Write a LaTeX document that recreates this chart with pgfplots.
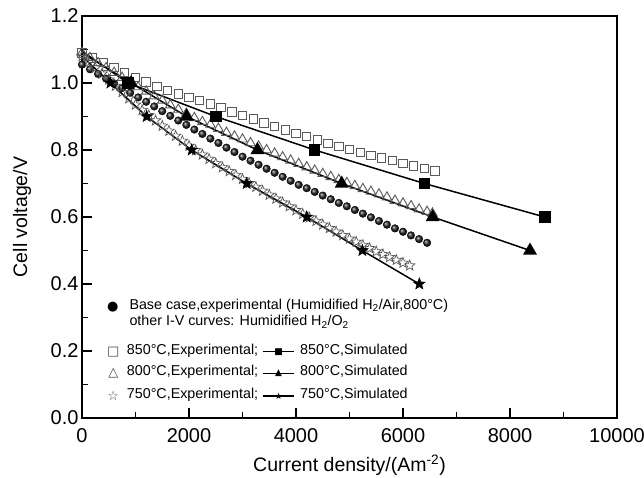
\documentclass[border=0pt]{standalone}
\usepackage{pgfplots}
\pgfplotsset{compat=1.18}
\usepackage{fontspec}
\setmainfont{Liberation Sans}
\newfontfamily\sym{DejaVu Sans}
\pgfdeclareplotmark{ostar}{%
  \pgfpathmoveto{\pgfpointpolar{90}{\pgfplotmarksize}}%
  \pgfpathlineto{\pgfpointpolar{126}{0.42\pgfplotmarksize}}%
  \pgfpathlineto{\pgfpointpolar{162}{\pgfplotmarksize}}%
  \pgfpathlineto{\pgfpointpolar{198}{0.42\pgfplotmarksize}}%
  \pgfpathlineto{\pgfpointpolar{234}{\pgfplotmarksize}}%
  \pgfpathlineto{\pgfpointpolar{270}{0.42\pgfplotmarksize}}%
  \pgfpathlineto{\pgfpointpolar{306}{\pgfplotmarksize}}%
  \pgfpathlineto{\pgfpointpolar{342}{0.42\pgfplotmarksize}}%
  \pgfpathlineto{\pgfpointpolar{18}{\pgfplotmarksize}}%
  \pgfpathlineto{\pgfpointpolar{54}{0.42\pgfplotmarksize}}%
  \pgfpathclose
  \pgfusepathqstroke
}
\pgfdeclareplotmark{fstar}{%
  \pgfpathmoveto{\pgfpointpolar{90}{\pgfplotmarksize}}%
  \pgfpathlineto{\pgfpointpolar{126}{0.42\pgfplotmarksize}}%
  \pgfpathlineto{\pgfpointpolar{162}{\pgfplotmarksize}}%
  \pgfpathlineto{\pgfpointpolar{198}{0.42\pgfplotmarksize}}%
  \pgfpathlineto{\pgfpointpolar{234}{\pgfplotmarksize}}%
  \pgfpathlineto{\pgfpointpolar{270}{0.42\pgfplotmarksize}}%
  \pgfpathlineto{\pgfpointpolar{306}{\pgfplotmarksize}}%
  \pgfpathlineto{\pgfpointpolar{342}{0.42\pgfplotmarksize}}%
  \pgfpathlineto{\pgfpointpolar{18}{\pgfplotmarksize}}%
  \pgfpathlineto{\pgfpointpolar{54}{0.42\pgfplotmarksize}}%
  \pgfpathclose
  \pgfusepathqfillstroke
}
\colorlet{expgray}{black!65}
\begin{document}
\begin{tikzpicture}
\begin{axis}[
  scale only axis, width=535pt, height=402pt,
  xmin=0, xmax=10000, ymin=0, ymax=1.2,
  axis line style={line width=1.4pt},
  tick style={line width=1.2pt, black},
  tick align=inside, tick pos=left,
  xtick={0,2000,4000,6000,8000,10000},
  ytick={0,0.2,0.4,0.6,0.8,1.0,1.2},
  minor x tick num=1, minor y tick num=1,
  major tick length=10pt, minor tick length=6.5pt,
  scaled x ticks=false,
  /pgf/number format/assume math mode=true,
  xticklabel style={/pgf/number format/1000 sep={}, yshift=-7pt},
  yticklabel style={/pgf/number format/fixed, /pgf/number format/fixed zerofill, /pgf/number format/precision=1},
  ticklabel style={font=\fontsize{20}{22}\selectfont},
  label style={font=\fontsize{19.5}{21}\selectfont},
  xlabel={Current density/(Am\textsuperscript{-2})},
  ylabel={Cell voltage/V},
  xlabel style={at={(axis description cs:0.5,-0.117)}, anchor=center},
  ylabel style={at={(axis description cs:-0.112,0.5)}, anchor=center},
]
% 850 C experimental
\addplot[only marks, mark=square, mark size=4.2pt, mark options={expgray, line width=1pt}] coordinates {
(0,1.090) (200,1.075) (400,1.061) (600,1.047) (800,1.031) (1000,1.016) (1200,1.003) (1400,0.990)
(1600,0.978) (1800,0.967) (2000,0.957) (2200,0.947) (2400,0.937) (2600,0.926) (2800,0.914) (3000,0.903)
(3200,0.892) (3400,0.881) (3600,0.870) (3800,0.860) (4000,0.850) (4200,0.840) (4400,0.830) (4600,0.820)
(4800,0.811) (5000,0.802) (5200,0.793) (5400,0.784) (5600,0.776) (5800,0.768) (6000,0.760) (6200,0.752)
(6400,0.744) (6600,0.737)};
% 800 C experimental
\addplot[only marks, mark=triangle, mark size=5.5pt, mark options={expgray, line width=0.9pt}] coordinates {
(0,1.090) (150,1.075) (300,1.060) (450,1.045) (600,1.031) (750,1.016) (900,1.002) (1050,0.988)
(1200,0.975) (1350,0.961) (1500,0.948) (1650,0.934) (1800,0.921) (1950,0.909) (2100,0.896) (2250,0.884)
(2400,0.876) (2550,0.864) (2700,0.852) (2850,0.841) (3000,0.832) (3150,0.821) (3300,0.811) (3450,0.800)
(3600,0.790) (3750,0.779) (3900,0.769) (4050,0.759) (4200,0.749) (4350,0.739) (4500,0.729) (4650,0.720)
(4800,0.711) (4950,0.702) (5100,0.693) (5250,0.684) (5400,0.676) (5550,0.668) (5700,0.659) (5850,0.649)
(6000,0.641) (6150,0.633) (6300,0.623) (6450,0.616) (6550,0.611)};
% base case experimental
\addplot[only marks, mark=ball, mark size=3.8pt, mark options={ball color=black!85}] coordinates {
(0,1.055) (150,1.041) (300,1.027) (450,1.013) (600,0.999) (750,0.985) (900,0.971) (1050,0.957)
(1200,0.944) (1350,0.930) (1500,0.916) (1650,0.902) (1800,0.888) (1950,0.875) (2100,0.861) (2250,0.848)
(2400,0.834) (2550,0.821) (2700,0.807) (2850,0.794) (3000,0.780) (3150,0.768) (3300,0.756) (3450,0.744)
(3600,0.732) (3750,0.720) (3900,0.708) (4050,0.696) (4200,0.686) (4350,0.675) (4500,0.664) (4650,0.653)
(4800,0.642) (4950,0.632) (5100,0.621) (5250,0.610) (5400,0.599) (5550,0.588) (5700,0.577) (5850,0.566)
(6000,0.556) (6150,0.545) (6300,0.534) (6450,0.523)};
% 750 C experimental
\addplot[only marks, mark=ostar, mark size=5.5pt, mark options={expgray, line width=0.7pt}] coordinates {
(0,1.080) (125,1.0625) (250,1.045) (375,1.0275) (500,1.010) (625,0.991) (750,0.9725) (875,0.954)
(1000,0.935) (1125,0.919) (1250,0.9035) (1375,0.888) (1500,0.872) (1625,0.857) (1750,0.842) (1875,0.827)
(2000,0.812) (2125,0.799) (2250,0.786) (2375,0.773) (2500,0.760) (2625,0.748) (2750,0.7365) (2875,0.725)
(3000,0.713) (3125,0.701) (3250,0.6895) (3375,0.678) (3500,0.666) (3625,0.6545) (3750,0.643) (3875,0.6315)
(4000,0.620) (4125,0.609) (4250,0.5985) (4375,0.588) (4500,0.577) (4625,0.5665) (4750,0.556) (4875,0.5455)
(5000,0.535) (5125,0.5255) (5250,0.516) (5375,0.5065) (5500,0.497) (5625,0.4885) (5750,0.480) (5875,0.4715)
(6000,0.463) (6125,0.455)};
% simulated
\addplot[black, line width=1.5pt, mark=square*, mark size=5pt, mark indices={2,3,4,5,6}, mark options={solid}] coordinates {
(0,1.095) (860,1.0) (2500,0.90) (4350,0.80) (6400,0.70) (8650,0.60)};
\addplot[black, line width=1.5pt, mark=triangle*, mark size=6.5pt, mark indices={2,3,4,5,6,7}, mark options={solid}] coordinates {
(0,1.09) (918,1.0) (1956,0.90) (3280,0.80) (4854,0.70) (6555,0.60) (8374,0.50)};
\addplot[black, line width=1.5pt, mark=fstar, mark size=6pt, mark indices={2,3,4,5,6,7,8}, mark options={solid, line width=0.6pt}] coordinates {
(0,1.08) (531,1.0) (1209,0.90) (2050,0.80) (3078,0.70) (4200,0.60) (5240,0.50) (6305,0.40)};
\end{axis}
% legend block
\begin{scope}[every node/.style={inner sep=0pt, font=\fontsize{14.3}{16}\selectfont}]
\node at (30.7pt,111.3pt) {\sym\fontsize{13}{13}\selectfont ●};
\node[anchor=mid west] at (47.3pt,111.3pt) {Base case,experimental (Humidified H\textsubscript{2}/Air,800°C)};
\node[anchor=mid west] at (47.3pt,94.7pt) {other I-V curves: Humidified H\textsubscript{2}/O\textsubscript{2}};
\node[text=black!70] at (31.3pt,66.3pt) {\sym\fontsize{13}{13}\selectfont □};
\node[anchor=mid west] at (44.7pt,66.3pt) {850°C,Experimental;};
\draw[line width=1.5pt] (181.3pt,66.3pt) -- (212pt,66.3pt);
\node at (196.6pt,66.3pt) {\sym\fontsize{9}{9}\selectfont ■};
\node[anchor=mid west] at (218pt,66.3pt) {850°C,Simulated};
\node[text=black!70] at (31.3pt,44.7pt) {\sym\fontsize{13}{13}\selectfont △};
\node[anchor=mid west] at (44.7pt,44.7pt) {800°C,Experimental;};
\draw[line width=1.5pt] (181.3pt,44.7pt) -- (212pt,44.7pt);
\node at (196.6pt,44.7pt) {\sym\fontsize{9}{9}\selectfont ▲};
\node[anchor=mid west] at (218pt,44.7pt) {800°C,Simulated};
\node[text=black!70] at (31.3pt,22pt) {\sym\fontsize{13}{13}\selectfont ☆};
\node[anchor=mid west] at (44.7pt,22pt) {750°C,Experimental;};
\draw[line width=1.5pt] (181.3pt,22pt) -- (212pt,22pt);
\node at (196.6pt,22pt) {\sym\fontsize{9}{9}\selectfont ★};
\node[anchor=mid west] at (218pt,22pt) {750°C,Simulated};
\end{scope}
\pgfresetboundingbox
\path (-82pt,-59pt) rectangle (562pt,418pt);
\end{tikzpicture}
\end{document}
